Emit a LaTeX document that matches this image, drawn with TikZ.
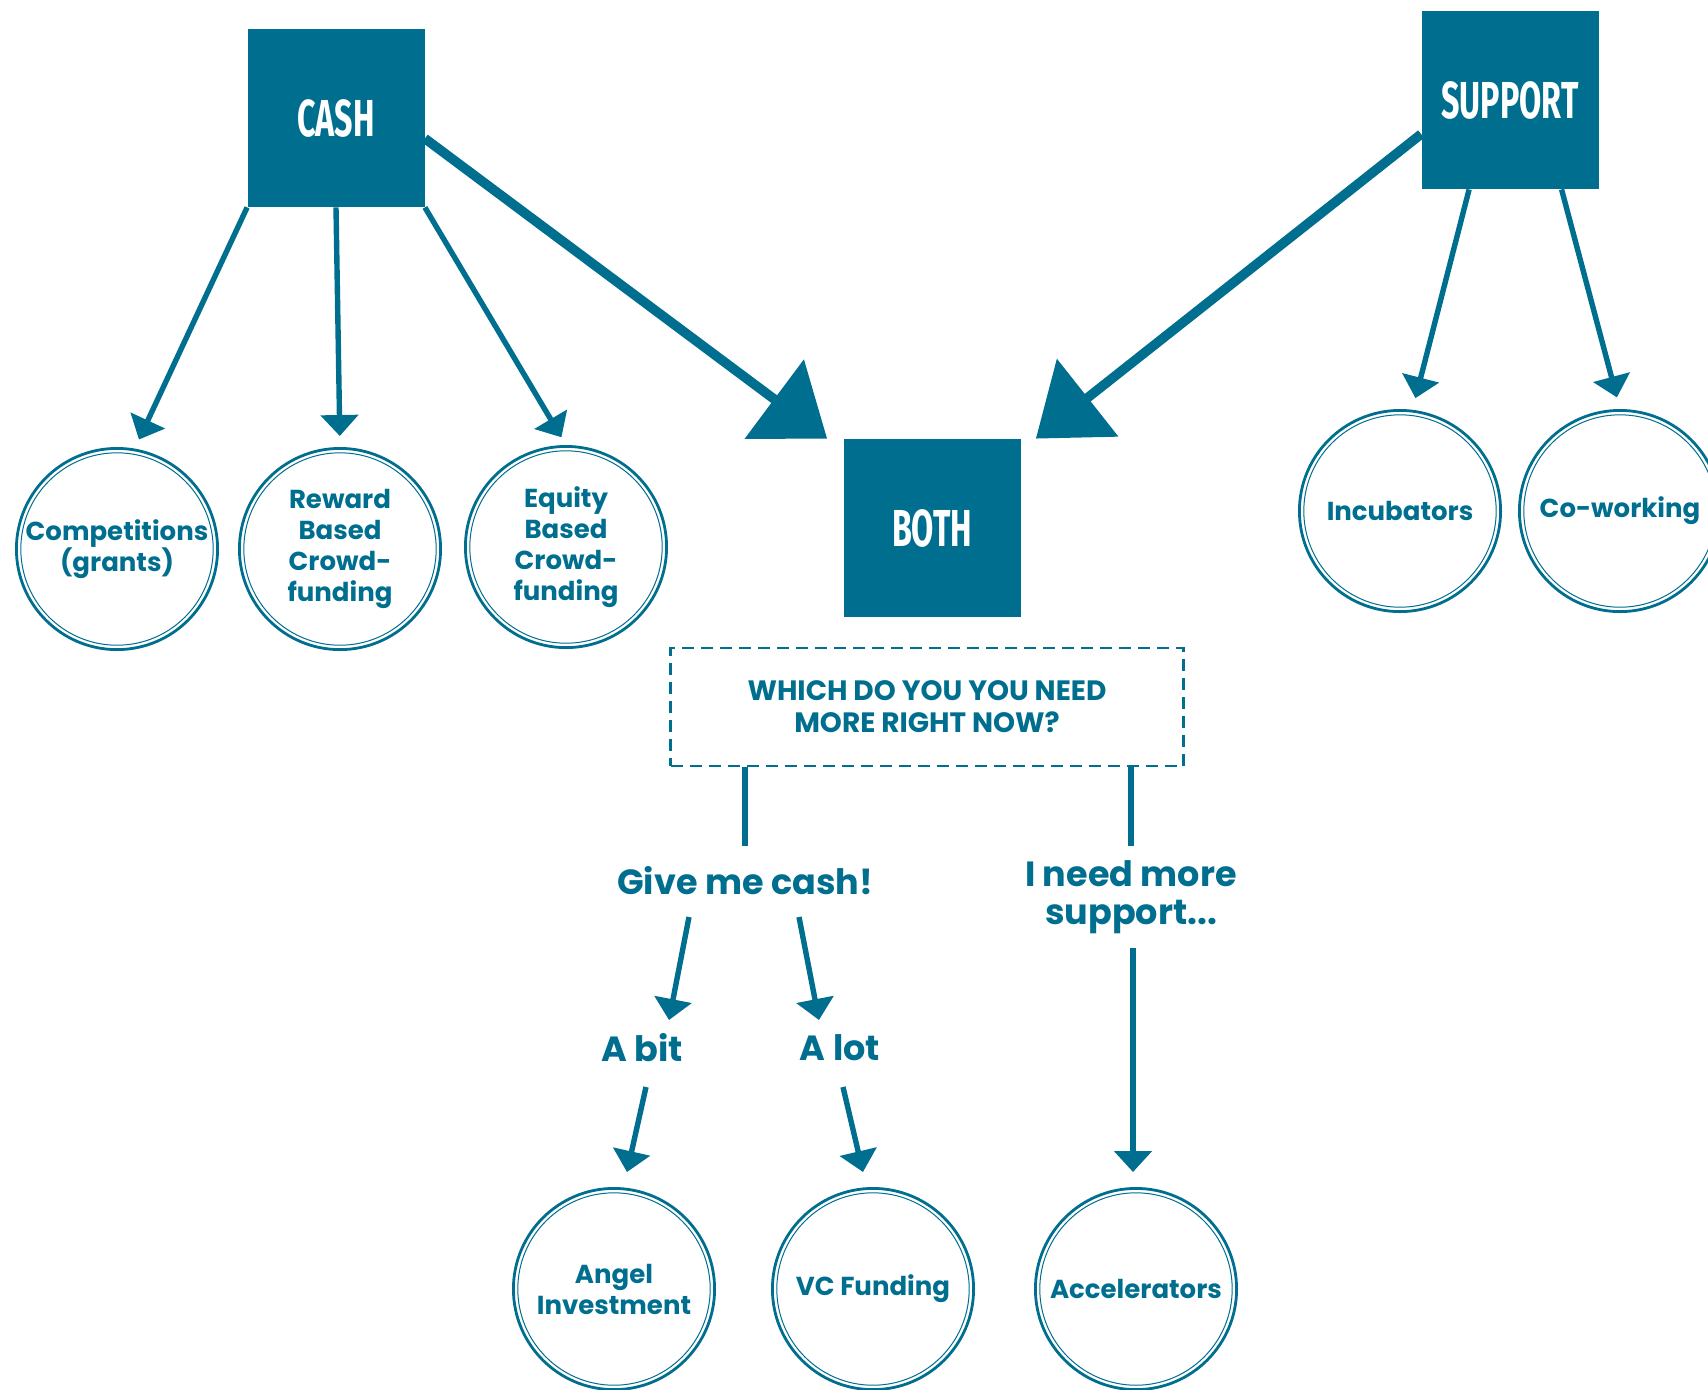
\documentclass[tikz,border=0pt]{standalone}
\usepackage{fontspec}
\setmainfont{Poppins}[UprightFont={* SemiBold}, BoldFont={* Bold}]
\newfontfamily\headfont{Fira Sans}[FakeStretch=0.62, UprightFont={* Bold}]
\usetikzlibrary{arrows.meta,calc}
\definecolor{brand}{RGB}{0,111,143}
\begin{document}
\begin{tikzpicture}[x=0.5pt,y=-0.5pt,
  box/.style={fill=brand, minimum width=88.5pt, minimum height=89pt, inner sep=0pt, text=white, font=\headfont\fontsize{26}{26}\selectfont},
  ring/.style={circle, draw=brand, line width=1.4pt, minimum size=100.6pt, inner sep=0pt, align=center, text=brand, font=\bfseries\fontsize{13}{15.5}\selectfont},
  inring/.style={draw=brand, line width=0.5pt},
  arr/.style={draw=brand, line width=2.7pt, -{Triangle[length=10.5pt,width=18.5pt]}},
  bigarr/.style={draw=brand, line width=4.8pt, -{Triangle[length=33pt,width=48.5pt]}},
  ln/.style={draw=brand, line width=2.8pt},
  lbl/.style={text=brand, align=center, inner sep=0pt, font=\bfseries\fontsize{17.5}{19}\selectfont},
  qbox/.style={draw=brand, line width=1.4pt, dash pattern=on 6pt off 3.5pt, minimum width=256.5pt, minimum height=59pt, align=center, text=brand, font=\bfseries\fontsize{14}{16}\selectfont},
]
\fill[white] (0,0) rectangle (1708,1389);
\path[use as bounding box] (0,0) rectangle (1708,1389);

\node[box] (cash) at (336,118) {CASH};
\node[box] (support) at (1510,100) {SUPPORT};
\node[box] (both) at (932,528) {BOTH};

\node[ring] (comp) at (117,549) {Competitions\\(grants)};
\node[ring] (reward) at (340,549) {Reward\\Based\\Crowd-\\funding};
\node[ring] (equity) at (566,547) {Equity\\Based\\Crowd-\\funding};
\node[ring] (incub) at (1400,511) {Incubators};
\node[ring] (cowork) at (1620,511) {Co-working};
\node[ring] (angel) at (614,1289) {Angel\\Investment};
\node[ring] (vc) at (873,1289) {VC Funding};
\node[ring] (accel) at (1136,1289) {Accelerators};
\foreach \n in {comp,reward,equity,incub,cowork,angel,vc,accel}
  \draw[inring] (\n.center) circle (48.1pt);

\node[qbox] (q) at (927,707) {WHICH DO YOU YOU NEED\\MORE RIGHT NOW?};

\node[lbl] (give) at (745,881) {Give me cash!};
\node[lbl] (need) at (1131,897) {I need more\\support...};
\node[lbl] (abit) at (642,1048) {A bit};
\node[lbl] (alot) at (840,1048) {A lot};

% cash branches
\draw[arr, shorten >=5pt] (cash.south west) -- (comp.80);
\draw[arr, shorten >=5.5pt] (cash.south) -- (reward.north);
\draw[arr, shorten >=4.5pt] (cash.south east) -- (equity.north);
% support branches
\draw[arr, shorten >=6pt] ($(support.south west)!0.27!(support.south east)$) -- (incub.83);
\draw[arr, shorten >=6pt] ($(support.south west)!0.79!(support.south east)$) -- (cowork.north);
% big arrows to both
\draw[bigarr] (cash.-13) -- ($(both.north west)+(-16,0)$);
\draw[bigarr] (support.201) -- ($(both.north east)+(15,0)$);

% question lines
\draw[ln] (q.south -| give) -- ($(give.center)+(0,-35)$);
\draw[ln] (q.south -| need) -- ($(need.center)+(0,-51)$);

% cash answers
\draw[arr] ($(give.center)+(-56,36)$) -- ($(abit.center)+(27,-28)$);
\draw[arr] ($(give.center)+(54,36)$) -- ($(alot.center)+(-21,-28)$);
\draw[arr] ($(abit.center)+(4,39)$) -- ($(angel.center)+(13,-117)$);
\draw[arr] ($(alot.center)+(3,39)$) -- ($(vc.center)+(-10,-117)$);
\draw[arr] ($(need.center)+(2,51)$) -- ($(accel.center)+(-3,-117)$);
\end{tikzpicture}
\end{document}
